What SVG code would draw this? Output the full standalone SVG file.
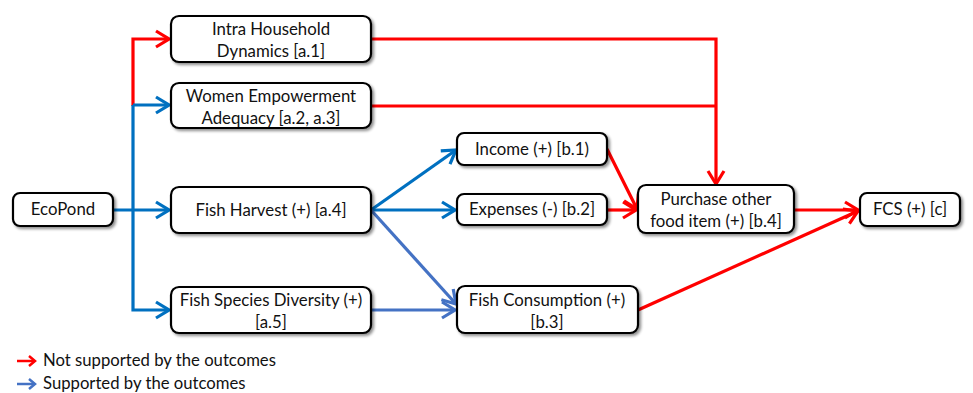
<svg xmlns="http://www.w3.org/2000/svg" width="973" height="393" viewBox="0 0 973 393">
<defs>
<style>
.box{fill:#fff;stroke:#000;stroke-width:2.2;filter:url(#sh)}
.t{font-family:Lato,"Liberation Sans",sans-serif;font-size:16.8px;fill:#111;text-anchor:middle}
.lg{font-family:Lato,"Liberation Sans",sans-serif;font-size:16.7px;fill:#111}
.r{stroke:#FF0000;stroke-width:3.2;fill:none}
.b{stroke:#0070C0;stroke-width:3.2;fill:none}
.lb{stroke:#4472C4;stroke-width:3.2;fill:none}
</style>
<filter id="sh" x="-10%" y="-20%" width="130%" height="150%">
<feGaussianBlur in="SourceAlpha" stdDeviation="1.5"/>
<feOffset dx="2" dy="2" result="o"/>
<feComponentTransfer><feFuncA type="linear" slope="0.45"/></feComponentTransfer>
<feMerge><feMergeNode/><feMergeNode in="SourceGraphic"/></feMerge>
</filter>
<marker id="ar" markerUnits="userSpaceOnUse" viewBox="-16 -10 18 20" refX="0" refY="0" markerWidth="18" markerHeight="20" orient="auto"><path d="M-13,-8 L0,0 L-13,8" fill="none" stroke="#FF0000" stroke-width="3.2" stroke-linejoin="miter"/></marker>
<marker id="ab" markerUnits="userSpaceOnUse" viewBox="-16 -10 18 20" refX="0" refY="0" markerWidth="18" markerHeight="20" orient="auto"><path d="M-13,-8 L0,0 L-13,8" fill="none" stroke="#0070C0" stroke-width="3.2"/></marker>
<marker id="alb" markerUnits="userSpaceOnUse" viewBox="-16 -10 18 20" refX="0" refY="0" markerWidth="18" markerHeight="20" orient="auto"><path d="M-13,-8 L0,0 L-13,8" fill="none" stroke="#4472C4" stroke-width="3.2"/></marker>
</defs>
<rect width="973" height="393" fill="#fff"/>
<g id="connectors">
<path class="r" d="M133,106 V39 H169" marker-end="url(#ar)"/>
<path class="b" d="M133,105 V310 H169" marker-end="url(#ab)"/>
<path class="b" d="M133,105 H169" marker-end="url(#ab)"/>
<path class="b" d="M113,210 H169" marker-end="url(#ab)"/>
<path class="r" d="M371,39 H716 V184" marker-end="url(#ar)"/>
<path class="r" d="M371,106 H716"/>
<path class="b" d="M371,210 L456,150" marker-end="url(#ab)"/>
<path class="b" d="M371,210 H455" marker-end="url(#ab)"/>
<path class="lb" d="M371,210 L456,304" marker-end="url(#alb)"/>
<path class="lb" d="M371,310 H455" marker-end="url(#alb)"/>
<path class="r" d="M607,149 L637,209" marker-end="url(#ar)"/>
<path class="r" d="M607,210 H636" marker-end="url(#ar)"/>
<path class="r" d="M794,210 H858" marker-end="url(#ar)"/>
<path class="r" d="M638,310 L858,211" marker-end="url(#ar)"/>
</g>
<g id="n-intra"><rect class="box" x="171" y="16" width="200" height="46" rx="8"/><text class="t" x="271" y="35">Intra Household</text><text class="t" x="271" y="57">Dynamics [a.1]</text></g>
<g id="n-women"><rect class="box" x="171" y="83" width="200" height="45" rx="8"/><text class="t" x="271" y="102">Women Empowerment</text><text class="t" x="271" y="124">Adequacy [a.2, a.3]</text></g>
<g id="n-ecopond"><rect class="box" x="13" y="193" width="100" height="33" rx="7"/><text class="t" x="63" y="215">EcoPond</text></g>
<g id="n-harvest"><rect class="box" x="171" y="187" width="200" height="46" rx="8"/><text class="t" x="271" y="216">Fish Harvest (+) [a.4]</text></g>
<g id="n-species"><rect class="box" x="171" y="287" width="200" height="46" rx="8"/><text class="t" x="271" y="306">Fish Species Diversity (+)</text><text class="t" x="271" y="328">[a.5]</text></g>
<g id="n-income"><rect class="box" x="457" y="133" width="150" height="32" rx="7"/><text class="t" x="532" y="155">Income (+) [b.1)</text></g>
<g id="n-expenses"><rect class="box" x="457" y="194" width="150" height="31" rx="7"/><text class="t" x="532" y="215">Expenses (-) [b.2]</text></g>
<g id="n-consumption"><rect class="box" x="457" y="286" width="181" height="47" rx="8"/><text class="t" x="547" y="306">Fish Consumption (+)</text><text class="t" x="547" y="328">[b.3]</text></g>
<g id="n-purchase"><rect class="box" x="638" y="185" width="156" height="48" rx="8"/><text class="t" x="716" y="205">Purchase other</text><text class="t" x="716" y="227">food item (+) [b.4]</text></g>
<g id="n-fcs"><rect class="box" x="860" y="193" width="100" height="33" rx="7"/><text class="t" x="910" y="215">FCS (+) [c]</text></g>
<g id="legend">
<path d="M17,361 H34" stroke="#FF0000" stroke-width="2.5" fill="none"/>
<path d="M29,356 L35,361 L29,366" stroke="#FF0000" stroke-width="2.5" fill="none"/>
<text class="lg" x="43" y="366">Not supported by the outcomes</text>
<path d="M17,384 H34" stroke="#4472C4" stroke-width="2.5" fill="none"/>
<path d="M29,379 L35,384 L29,389" stroke="#4472C4" stroke-width="2.5" fill="none"/>
<text class="lg" x="43" y="389">Supported by the outcomes</text>
</g>
</svg>
